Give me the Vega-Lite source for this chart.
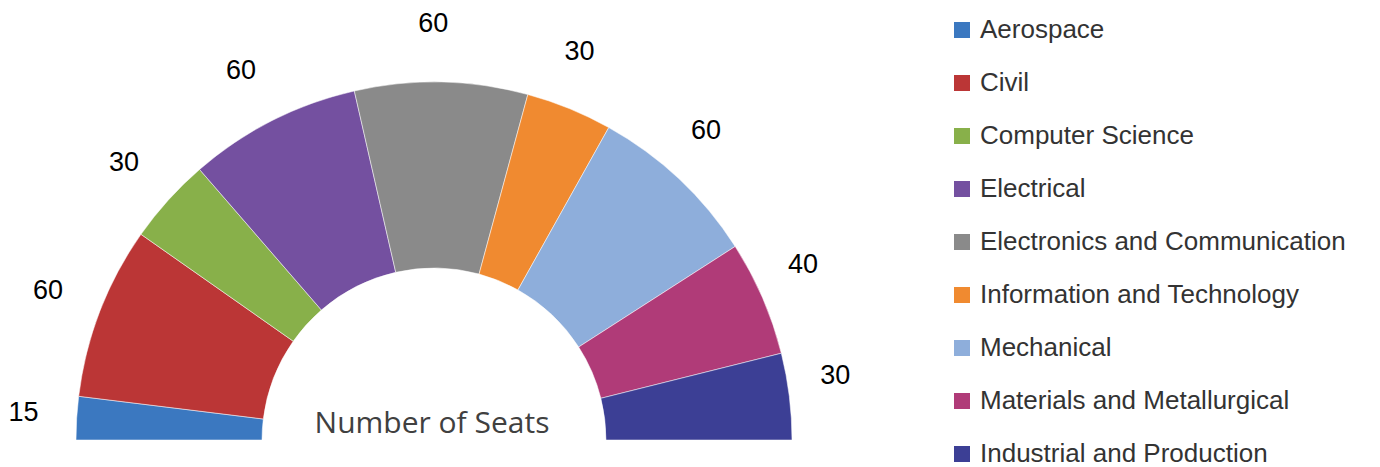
{
  "$schema": "https://vega.github.io/schema/vega-lite/v6.json",
  "width": 868,
  "height": 440,
  "padding": {"left": 0, "top": 0, "right": 512, "bottom": 27},
  "autosize": "none",
  "background": "white",
  "config": {"view": {"stroke": null}},
  "data": {"values": [
    {"dept": "Aerospace", "seats": 15, "order": 1},
    {"dept": "Civil", "seats": 60, "order": 2},
    {"dept": "Computer Science", "seats": 30, "order": 3},
    {"dept": "Electrical", "seats": 60, "order": 4},
    {"dept": "Electronics and Communication", "seats": 60, "order": 5},
    {"dept": "Information and Technology", "seats": 30, "order": 6},
    {"dept": "Mechanical", "seats": 60, "order": 7},
    {"dept": "Materials and Metallurgical", "seats": 40, "order": 8},
    {"dept": "Industrial and Production", "seats": 30, "order": 9}
  ]},
  "encoding": {
    "theta": {"field": "seats", "type": "quantitative", "stack": true, "scale": {"range": [-1.5708, 1.5708]}},
    "order": {"field": "order", "type": "quantitative"}
  },
  "layer": [
    {
      "mark": {"type": "arc", "radius": 358, "radius2": 172, "x": {"expr": "width/2"}, "y": {"expr": "height"}, "stroke": "#ffffff", "strokeWidth": 1, "strokeOpacity": 0.5},
      "encoding": {
        "color": {
          "field": "dept", "type": "nominal",
          "scale": {
            "domain": ["Aerospace", "Civil", "Computer Science", "Electrical", "Electronics and Communication", "Information and Technology", "Mechanical", "Materials and Metallurgical", "Industrial and Production"],
            "range": ["#3b78c0", "#bb3636", "#88b04a", "#7450a0", "#8a8a8a", "#f08a30", "#8eaedb", "#b03b78", "#3c3f95"]
          },
          "legend": {
            "title": null,
            "orient": "none",
            "legendX": 949,
            "legendY": 17,
            "symbolType": "square",
            "symbolSize": 256,
            "symbolStrokeWidth": 0,
            "labelFont": "Liberation Sans",
            "labelFontSize": 26,
            "labelColor": "#333333",
            "labelOffset": 5,
            "rowPadding": 27,
            "labelLimit": 500
          }
        }
      }
    },
    {
      "mark": {"type": "text", "radius": 408, "thetaOffset": -0.015, "dx": -3, "dy": -8, "x": {"expr": "width/2"}, "y": {"expr": "height"}, "font": "Liberation Sans", "fontSize": 27, "color": "#000000", "align": "center", "baseline": "middle"},
      "encoding": {"text": {"field": "seats", "type": "quantitative"}}
    },
    {
      "data": {"values": [{"label": "Number of Seats"}]},
      "mark": {"type": "text", "x": {"expr": "width/2"}, "y": {"expr": "height - 7"}, "dx": -2, "font": "Open Sans", "fontSize": 30, "color": "#404040", "align": "center", "baseline": "alphabetic"},
      "encoding": {"text": {"field": "label", "type": "nominal"}, "theta": null, "order": null}
    }
  ]
}
